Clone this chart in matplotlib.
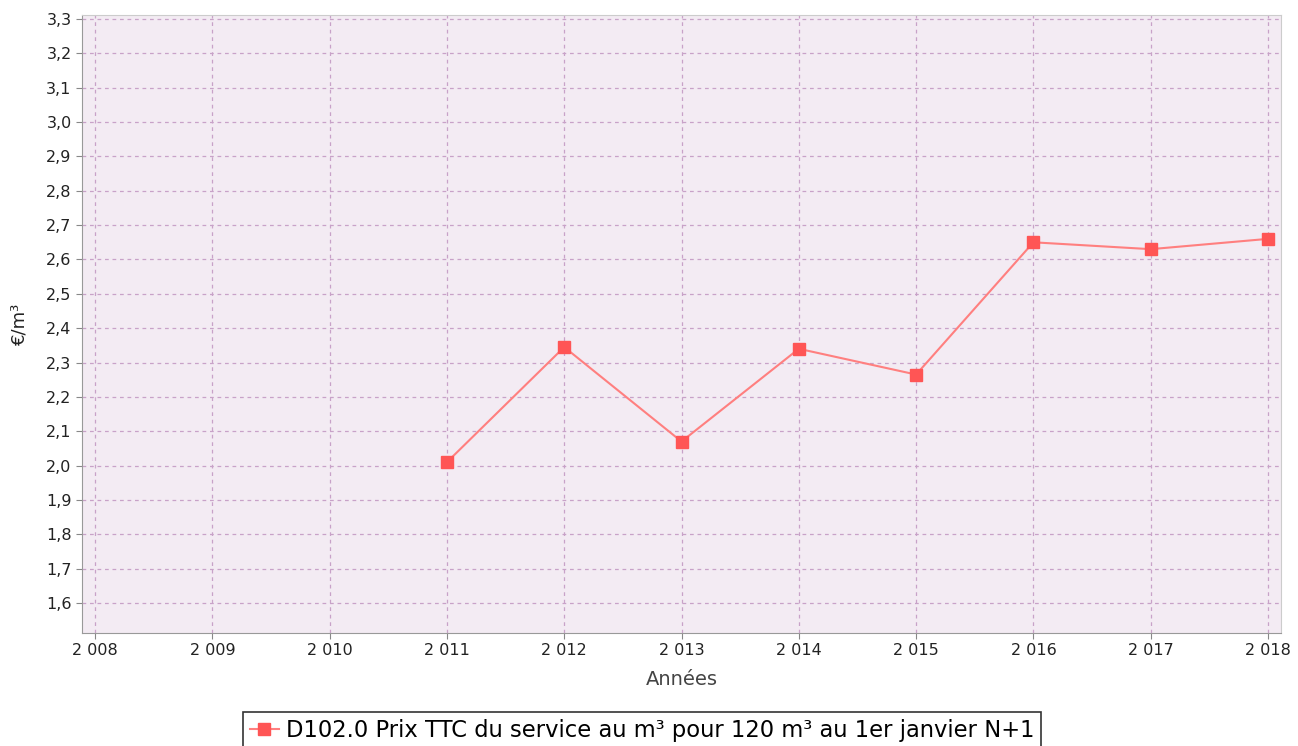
import matplotlib
matplotlib.use('Agg')
import matplotlib.pyplot as plt
from matplotlib.ticker import FuncFormatter, MultipleLocator

plt.rcParams['font.family'] = ['DejaVu Sans']

years = [2011, 2012, 2013, 2014, 2015, 2016, 2017, 2018]
prix = [2.01, 2.345, 2.07, 2.34, 2.265, 2.65, 2.63, 2.66]
label = 'D102.0 Prix TTC du service au m³ pour 120 m³ au 1er janvier N+1'

fig = plt.figure(figsize=(12.98, 7.46), dpi=100)
ax = fig.add_axes([0.0632, 0.1515, 0.9237, 0.8284])
ax.set_facecolor('#f3ebf3')

ax.plot(years, prix, color='#ff7f7f', lw=1.5, marker='s', markersize=9,
        markerfacecolor='#ff5555', markeredgecolor='#ff5555', label=label)

ax.set_xlim(2007.889, 2018.111)
ax.set_ylim(1.5127, 3.3117)
ax.xaxis.set_major_locator(MultipleLocator(1))
ax.yaxis.set_major_locator(MultipleLocator(0.1))
ax.xaxis.set_major_formatter(FuncFormatter(lambda v, p: '{:,}'.format(int(round(v))).replace(',', ' ')))
ax.yaxis.set_major_formatter(FuncFormatter(lambda v, p: '{:.1f}'.format(v).replace('.', ',')))
ax.grid(True, color='#c8a2c8', linestyle=(0, (3, 3)), linewidth=0.9)
ax.tick_params(labelsize=11.5, color='#888888', length=4, labelcolor='#222222')
for s in ax.spines.values():
    s.set_color('#999999')
ax.spines['top'].set_color('#cccccc')
ax.spines['right'].set_color('#cccccc')

ax.set_xlabel('Années', fontsize=14, color='#444444')
ax.set_ylabel('€/m³', fontsize=13, color='#222222')
ax.xaxis.set_label_coords(0.5, -0.06)
ax.yaxis.set_label_coords(-0.045, 0.5)

leg = fig.legend(loc='center', bbox_to_anchor=(642 / 1298, 1 - 730 / 746), fontsize=16.3,
                 frameon=True, fancybox=False, edgecolor='black', handlelength=1.3,
                 handletextpad=0.3, borderpad=0.3)
leg.get_frame().set_linewidth(1.2)

fig.savefig('out.png', dpi=100)
